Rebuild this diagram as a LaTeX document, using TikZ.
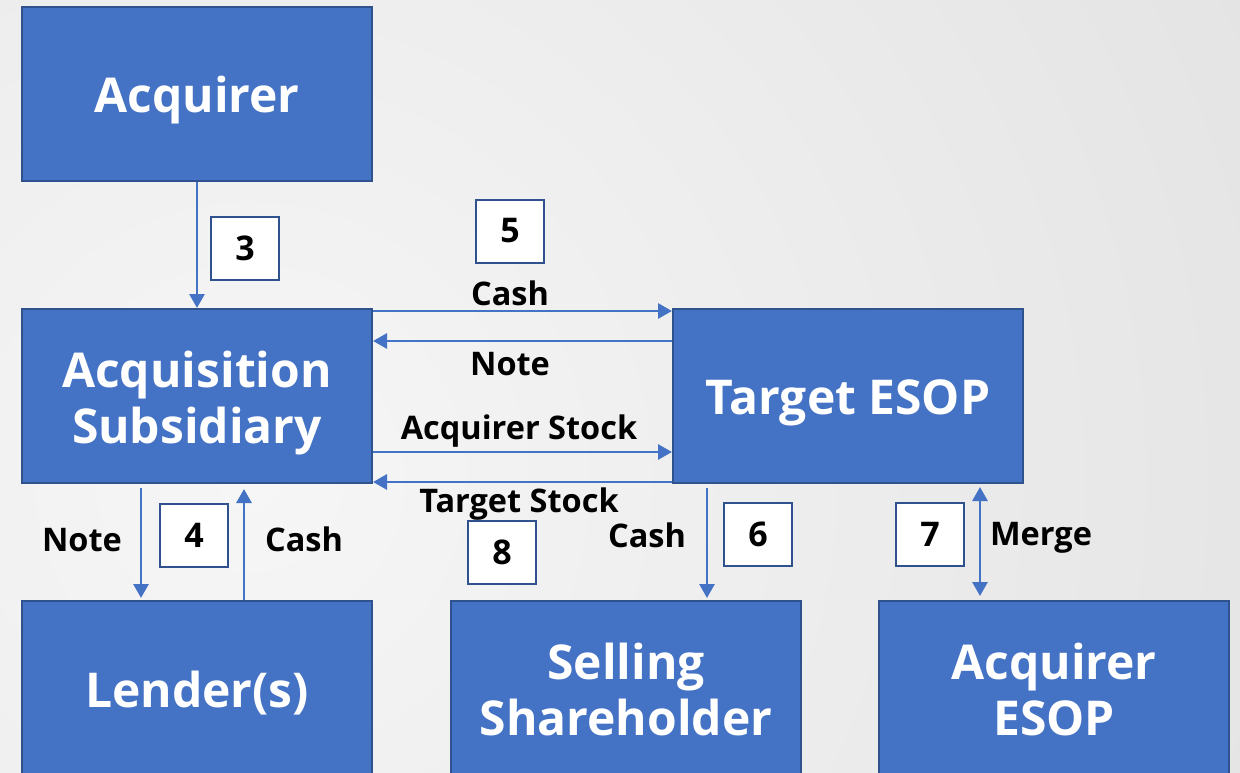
\documentclass[tikz,border=0pt]{standalone}
\usepackage{fontspec}
\setmainfont{Open Sans}
\usetikzlibrary{arrows.meta,calc}
\definecolor{boxblue}{HTML}{4472C4}
\definecolor{boxedge}{HTML}{2F528F}
\definecolor{bgin}{HTML}{F6F6F6}
\definecolor{bgout}{HTML}{D4D4D4}
\tikzset{
  bigbox/.style={draw=boxedge, line width=2pt, fill=boxblue, minimum width=350pt, minimum height=174pt,
    inner sep=0pt},
  bigtext/.style={text=white, align=center, inner sep=0pt, font=\bfseries\fontsize{48}{56}\selectfont},
  numbox/.style={draw=boxedge, line width=2pt, fill=white, minimum width=68pt, minimum height=63pt,
    inner sep=0pt, font=\bfseries\fontsize{34}{40}\selectfont},
  lbl/.style={font=\bfseries\fontsize{32.5}{38}\selectfont, inner sep=0pt, text height=23pt, text depth=0pt},
  arr/.style={draw=boxblue, line width=2.8pt, -{Triangle[length=14pt,width=15pt]}},
  darr/.style={draw=boxblue, line width=2.8pt, {Triangle[length=14pt,width=15pt]}-{Triangle[length=14pt,width=15pt]}}
}
\begin{document}
\begin{tikzpicture}[x=1pt,y=-1pt]
\useasboundingbox (0,0) rectangle (1240,773);
\clip (0,0) rectangle (1240,773);
\shade[inner color=bgin, outer color=bgout] (250,480) circle (2100);
% big boxes
\node[bigbox, label={[bigtext,yshift=-6pt]center:Acquirer}] (acq) at (197,94) {};
\node[bigbox, label={[bigtext,yshift=-7pt]center:{Acquisition\\Subsidiary}}] (sub) at (197,396) {};
\node[bigbox, label={[bigtext,yshift=-7pt]center:Target ESOP}] (tesop) at (848,396) {};
\node[bigbox, label={[bigtext,yshift=-5pt]center:Lender(s)}] (lend) at (197,688) {};
\node[bigbox, label={[bigtext,yshift=-1pt]center:{Selling\\Shareholder}}] (sell) at (626,688) {};
\node[bigbox, label={[bigtext,yshift=-1pt]center:{Acquirer\\ESOP}}] (aesop) at (1054,688) {};
% number boxes
\node[numbox] (n3) at (245,248) {3};
\node[numbox] (n5) at (510,231) {5};
\node[numbox] (n4) at (194,535) {4};
\node[numbox] (n8) at (502,552) {8};
\node[numbox] (n6) at (758,534) {6};
\node[numbox] (n7) at (930,534) {7};
% connectors
\draw[arr] (acq.south) -- (sub.north);
\draw[arr] ([yshift=-3pt]sub.north east) -- ([yshift=-3pt]tesop.north west);
\draw[arr] ([yshift=-33pt]tesop.north west) -- ([yshift=-33pt]sub.north east);
\draw[arr] ([yshift=32pt]sub.south east) -- ([yshift=32pt]tesop.south west);
\draw[arr] ([yshift=2pt]tesop.south west) -- ([yshift=2pt]sub.south east);
\draw[arr] ([xshift=120pt,yshift=-4pt]sub.south west) -- ([xshift=120pt,yshift=2pt]lend.north west);
\draw[arr] ([xshift=223pt]lend.north west) -- ([xshift=223pt,yshift=-5pt]sub.south west);
\draw[arr] ([xshift=35pt,yshift=-4pt]tesop.south west) -- ([xshift=257pt,yshift=2pt]sell.north west);
\draw[darr] ([xshift=308pt,yshift=-3pt]tesop.south west) -- ([xshift=102pt,yshift=4pt]aesop.north west);
% labels
\node[lbl] (lcash1) at (510,294) {Cash};
\node[lbl] (lnote1) at (510,364) {Note};
\node[lbl] (lastock) at (519,428) {Acquirer Stock};
\node[lbl] (ltstock) at (519,501) {Target Stock};
\node[lbl] (lnote2) at (82,540) {Note};
\node[lbl] (lcash2) at (304,540) {Cash};
\node[lbl] (lcash3) at (647,536) {Cash};
\node[lbl] (lmerge) at (1041,534) {Merge};
\end{tikzpicture}
\end{document}
